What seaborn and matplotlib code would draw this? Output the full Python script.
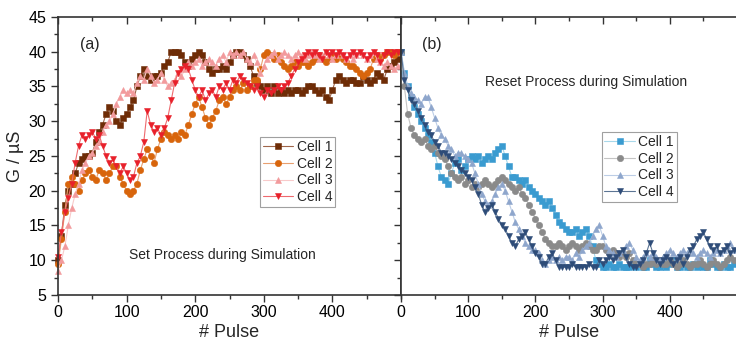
import numpy as np
import pandas as pd
import matplotlib.pyplot as plt
from matplotlib.ticker import MultipleLocator
import seaborn as sns

# pulse number, sampled every 5 pulses
pulse = list(range(0, 500, 5))

# Set process (conductance in uS)
set_cell1 = [10, 13.5, 18, 20, 21, 22.5, 24, 24.5, 25, 25, 25.5, 27, 28.5, 29.5, 31, 32, 31.5, 30, 29.5, 30.5,
             31, 32, 33, 35, 36.5, 37.5, 36.5, 36, 36.5, 36.5, 37, 38, 38.5, 40, 40, 40, 39.5, 38.5, 38, 39,
             39.5, 40, 39.5, 38.5, 37.5, 37, 37.5, 37.5, 38, 37.5, 38.5, 39.5, 40, 40, 39.5, 39, 38, 36.5, 35.5, 35,
             34.5, 35, 34, 35, 34, 34.5, 34, 34.5, 34, 34.5, 34.5, 34, 34.5, 35, 35, 34.5, 34, 34.5, 33.5, 33,
             34.5, 36, 36.5, 36, 35.5, 36, 36, 35.5, 35.5, 36.5, 36, 35.5, 36, 37, 36.5, 36, 37.5, 38, 38.5, 39]
set_cell2 = [9.5, 13, 17, 21, 22, 21, 20, 21.5, 22.5, 23, 22, 21.5, 23, 22.5, 21.5, 22.5, 23.5, 23.5, 22, 21,
             20, 19.5, 20, 21, 23, 24.5, 26, 25, 24, 26, 27.5, 28.5, 28, 27.5, 28, 27.5, 28.5, 28, 29.5, 31,
             32.5, 33.5, 32, 30.5, 29.5, 30.5, 31.5, 33, 33.5, 32.5, 33.5, 34.5, 35, 34.5, 35.5, 34.5, 35, 36, 36, 37.5,
             39.5, 40, 39.5, 39, 39.5, 38.5, 38, 37.5, 38, 38.5, 38, 38.5, 38.5, 38, 38.5, 39, 39.5, 39, 38.5, 39,
             39.5, 39, 39.5, 39, 38.5, 38, 38, 37.5, 37, 36.5, 37, 37.5, 39, 39.5, 39, 39.5, 40, 40, 39.5, 40]
set_cell3 = [8.5, 10, 12, 15, 17.5, 19.5, 21, 23, 24, 25, 25.5, 26.5, 27, 28.5, 29.5, 30, 31, 32.5, 33.5, 34.5,
             34, 34.5, 34, 35.5, 36.5, 36, 37.5, 36.5, 35.5, 36, 37, 36, 35, 35.5, 36, 37, 36.5, 37.5, 38.5, 38,
             38.5, 39, 38, 38.5, 39, 38.5, 38, 39, 39.5, 38.5, 40, 39.5, 40, 39.5, 40, 39, 38.5, 39.5, 38.5, 37,
             38, 39, 39.5, 40, 39, 39.5, 40, 39.5, 39, 39.5, 40, 39.5, 39, 39.5, 40, 39.5, 39, 39.5, 40, 39.5,
             39, 39.5, 40, 39.5, 39, 39.5, 39, 39.5, 40, 39.5, 39, 39.5, 40, 39, 38.5, 38, 38.5, 38, 37.5, 38]
set_cell4 = [10.5, 14, 17, 19, 21, 24, 26.5, 28, 27.5, 28, 28.5, 27.5, 28, 26.5, 25, 24, 24.5, 23.5, 22.5, 23.5,
             22.5, 21.5, 22, 24, 25, 27, 31.5, 29.5, 28.5, 29, 28, 29, 30.5, 33, 35.5, 37, 37.5, 38, 37.5, 36,
             34.5, 33.5, 34.5, 33, 34, 34.5, 33.5, 35, 34.5, 35.5, 34.5, 36, 35.5, 36.5, 36, 35.5, 35, 34.5, 35, 34,
             33.5, 34.5, 34, 34.5, 35, 34.5, 35, 35.5, 36.5, 37.5, 38.5, 39, 39.5, 40, 39.5, 40, 39.5, 39, 40, 39.5,
             40, 39.5, 40, 39.5, 39, 39.5, 40, 39.5, 40, 39.5, 39, 39.5, 40, 39.5, 38.5, 39.5, 40, 39.5, 40, 40]

# Reset process (conductance in uS)
reset_cell1 = [40, 37, 35, 33.5, 32, 31, 30, 29, 28, 27, 25.5, 23.5, 22, 21.5, 21, 22.5, 24, 24.5, 23, 23.5,
               24.5, 25, 24.5, 25, 24, 24.5, 25, 24.5, 25.5, 26, 26.5, 25, 23.5, 22, 22, 21.5, 21, 21.5, 20.5, 20,
               19.5, 19, 18.5, 18, 18.5, 17.5, 16.5, 15.5, 15, 14.5, 14, 14, 14.5, 13.5, 14, 14.5, 13.5, 12, 10, 9.5,
               9, 9, 9.5, 9, 9, 9.5, 9, 9, 9, 9.5, 9, 9.5, 9, 9, 10, 9.5, 9, 9, 9.5, 9,
               9.5, 10, 9, 9, 9.5, 9, 9, 9.5, 9, 9.5, 9, 9, 10, 9.5, 9, 9, 9.5, 9, 9, 9.5]
reset_cell2 = [40, 35, 31, 29, 28, 27.5, 27, 27.5, 26.5, 26, 26.5, 25.5, 25, 24.5, 23.5, 22.5, 22, 21.5, 22, 21,
               21.5, 20.5, 21, 20.5, 21, 21.5, 21, 20.5, 21, 21.5, 22, 21.5, 21, 20.5, 20, 20.5, 19.5, 19, 18, 17,
               16, 15, 14, 13, 12.5, 12, 12, 12.5, 12, 11.5, 12, 12.5, 12, 11.5, 12, 12.5, 12, 11.5, 11.5, 12,
               12, 11.5, 11, 11.5, 11, 10.5, 11, 10.5, 11, 10, 9.5, 9.5, 9, 9.5, 9.5, 10, 9.5, 10, 9.5, 9.5,
               10, 9.5, 9, 9.5, 10, 9.5, 9, 9.5, 9.5, 10, 9.5, 9, 9.5, 10, 9.5, 9, 9.5, 10, 10.5, 10]
reset_cell3 = [40, 37, 35, 34, 33.5, 33, 32.5, 33.5, 33.5, 32, 30.5, 29, 28, 27.5, 26.5, 26, 25, 25.5, 25.5, 25,
               24.5, 24, 22.5, 21, 19.5, 18.5, 18, 18.5, 19.5, 20.5, 21, 20, 18.5, 17, 15.5, 14.5, 13.5, 12.5, 12, 11.5,
               11.5, 11, 10, 9.5, 10, 10.5, 10, 10.5, 10, 10.5, 10.5, 10, 11, 10.5, 11.5, 12, 12.5, 13.5, 14.5, 15,
               13.5, 12, 11.5, 11, 10.5, 11, 11.5, 12, 12.5, 11.5, 10.5, 10, 10.5, 11, 10.5, 11, 10.5, 10, 10.5, 11,
               11.5, 11, 10.5, 11, 11.5, 11, 11.5, 11, 10.5, 11, 11.5, 11, 10.5, 11, 11.5, 11, 11.5, 12, 12.5, 11.5]
reset_cell4 = [40, 36, 34.5, 33, 32.5, 31.5, 30.5, 29.5, 28.5, 28, 27, 26.5, 25.5, 25.5, 25, 24.5, 24, 23.5, 23, 22.5,
               22, 21.5, 20.5, 19.5, 18, 17, 17.5, 18, 17, 16, 15, 14.5, 13.5, 12.5, 12, 13, 13.5, 14, 13, 12,
               11, 10.5, 9.5, 9.5, 10.5, 11, 10, 9, 9, 9, 9, 9.5, 9, 9, 9, 9, 9.5, 9, 9, 10,
               9.5, 10, 10.5, 10, 10.5, 11, 11.5, 10.5, 9.5, 9, 9, 9.5, 10, 11, 12.5, 11, 10, 9.5, 10, 10.5,
               10, 9.5, 10, 10.5, 9.5, 10.5, 11.5, 12, 13, 13.5, 14, 13, 12, 11.5, 12, 11, 11.5, 12, 11, 11.5]

cells = ['Cell 1', 'Cell 2', 'Cell 3', 'Cell 4']
markers = ['s', 'o', '^', 'v']
set_colors = ['#6E2C06', '#D8650C', '#F29A9C', '#E8202A']
set_lines = ['#A0664A', '#E8A070', '#F8CACA', '#EE6A6E']
reset_colors = ['#3A9BD0', '#8A8A8A', '#8EA6CC', '#2E4C78']
reset_lines = ['#A8D8EA', '#C4C4C4', '#BCCDE6', '#5C7594']

sns.set_style('ticks')
plt.rcParams['font.family'] = ['Liberation Sans', 'DejaVu Sans']

fig = plt.figure(figsize=(7.36, 3.43), dpi=100)
ax1 = fig.add_axes([58 / 736, 48 / 343, 343 / 736, 278 / 343])
ax2 = fig.add_axes([401 / 736, 48 / 343, 336 / 736, 278 / 343])

set_data = [set_cell1, set_cell2, set_cell3, set_cell4]
reset_data = [reset_cell1, reset_cell2, reset_cell3, reset_cell4]

for ax, data, cols, lcols in [(ax1, set_data, set_colors, set_lines),
                              (ax2, reset_data, reset_colors, reset_lines)]:
    for i in range(4):
        df = pd.DataFrame({'pulse': pulse, 'G': data[i]})
        sns.lineplot(data=df, x='pulse', y='G', ax=ax, color=lcols[i], lw=0.8,
                     marker=markers[i], markersize=4.6, markerfacecolor=cols[i],
                     markeredgecolor=cols[i], markeredgewidth=0.4, label=cells[i],
                     clip_on=(ax is ax2))

for ax in [ax1, ax2]:
    ax.set_xlim(0, 500)
    ax.set_ylim(5, 45)
    ax.xaxis.set_major_locator(MultipleLocator(100))
    ax.xaxis.set_minor_locator(MultipleLocator(50))
    ax.yaxis.set_major_locator(MultipleLocator(5))
    ax.yaxis.set_minor_locator(MultipleLocator(2.5))
    ax.set_xticks([0, 100, 200, 300, 400])
    ax.set_xlabel('# Pulse', fontsize=13, labelpad=3)
    for s in ax.spines.values():
        s.set_linewidth(1.2)
        s.set_color('#333333')
    ax.tick_params(which='both', colors='#333333', labelcolor='black', labelsize=11.5, width=1)
    ax.tick_params(which='major', length=5)
    ax.tick_params(which='minor', length=3)
    ax.tick_params(axis='x', which='both', top=True, direction='out', pad=2)

ax1.tick_params(axis='y', which='both', right=True, direction='out')
# mirrored ticks point inward
for t in ax1.yaxis.get_major_ticks() + ax1.yaxis.get_minor_ticks():
    t.tick2line.set_marker(0)
for ax in [ax1, ax2]:
    for t in ax.xaxis.get_major_ticks() + ax.xaxis.get_minor_ticks():
        t.tick2line.set_marker(3)
ax1.set_ylabel('G / \u00b5S', fontsize=13, labelpad=3)
ax2.set_ylabel('')
ax2.tick_params(axis='y', which='both', left=False, labelleft=False)
ax2.spines['right'].set_visible(False)

ax1.text(47, 41, '(a)', fontsize=11.5, ha='center', va='center')
ax1.text(240, 10.8, 'Set Process during Simulation', fontsize=10, ha='center', va='center')
ax2.text(46, 41, '(b)', fontsize=11.5, ha='center', va='center')
ax2.text(275, 35.6, 'Reset Process during Simulation', fontsize=10, ha='center', va='center')

for ax, anchor in [(ax1, (0.589, 0.568)), (ax2, (0.597, 0.586))]:
    leg = ax.legend(loc='upper left', bbox_to_anchor=anchor, fontsize=10, frameon=True,
                    fancybox=False, borderpad=0.2, labelspacing=0.2, handlelength=2.2,
                    handletextpad=0.25, borderaxespad=0)
    leg.get_frame().set_edgecolor('#888888')
    leg.get_frame().set_linewidth(0.8)

plt.savefig('out.png', dpi=100)
